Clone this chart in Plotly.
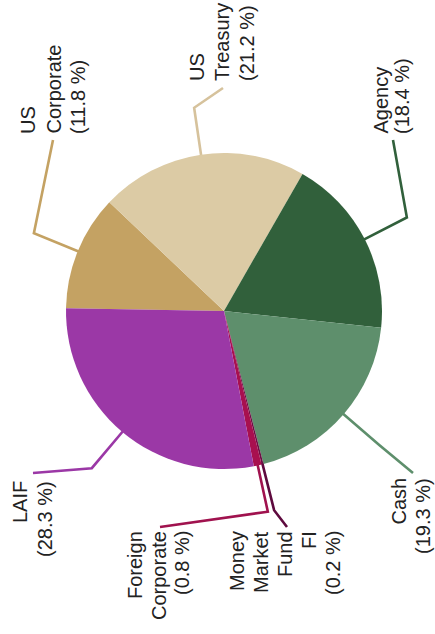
import math
import plotly.graph_objects as go

# ---- data ----
labels = ["US Corporate", "US Treasury", "Agency", "Cash",
          "Money Market Fund FI", "Foreign Corporate", "LAIF"]
values = [11.8, 21.2, 18.4, 19.3, 0.2, 0.8, 28.3]
colors = ["#C4A263", "#DCCBA5", "#31603B", "#5E8F6C",
          "#6B0F45", "#A8104F", "#9B38A6"]
line_colors = ["#C4A263", "#D6C29C", "#31603B", "#5E8F6C",
               "#5E0A3E", "#A0124E", "#9B38A6"]
label_lines = [["US", "Corporate"], ["US", "Treasury"], ["Agency"], ["Cash"],
               ["Money", "Market", "Fund", "FI"], ["Foreign", "Corporate"], ["LAIF"]]

# ---- layout (pixel units of the 435x634 canvas) ----
W, H = 435, 634
CX, CY, R = 224, 311, 158
ROT = 271  # start angle, clockwise from 12 o'clock

label_x0 = [28, 197, 380, 398, 237, 135, 20]
label_step = [25, 25, 22, 25, 24, 23.5, 25]
label_y = [135, 82, 135, 477, 530, 530, 480]
label_anchor = ["bottom", "bottom", "bottom", "top", "top", "top", "top"]
leader_end = [(53, 140), (223, 88), (393, 140), (413, 473),
              (287, 527), (160, 527), (33, 473)]

fig = go.Figure()

fig.add_trace(go.Pie(
    labels=labels, values=values, sort=False, direction="clockwise",
    rotation=ROT, textinfo="none", hoverinfo="label+percent",
    marker=dict(colors=colors, line=dict(width=0)),
    domain=dict(x=[(CX - R) / W, (CX + R) / W],
                y=[1 - (CY + R) / H, 1 - (CY - R) / H]),
    showlegend=False,
))

total = sum(values)
cum = 0.0
annotations = []
for i, v in enumerate(values):
    mid = math.radians(ROT + (cum + v / 2) / total * 360)
    cum += v
    ax = CX + R * 0.99 * math.sin(mid)
    ay = CY - R * 0.99 * math.cos(mid)
    bx = CX + R * 1.3 * math.sin(mid)
    by = CY - R * 1.3 * math.cos(mid)
    ex, ey = leader_end[i]
    fig.add_trace(go.Scatter(
        x=[ax, bx, ex], y=[ay, by, ey], mode="lines",
        line=dict(color=line_colors[i], width=2.6),
        hoverinfo="skip", showlegend=False,
    ))
    lines = label_lines[i] + [f"({v} %)"]
    for j, t in enumerate(lines):
        annotations.append(dict(
            x=label_x0[i] + j * label_step[i], y=label_y[i],
            xref="x", yref="y", text=t, showarrow=False, textangle=-90,
            xanchor="center", yanchor=label_anchor[i],
            font=dict(family="Arial, Liberation Sans, sans-serif", size=20, color="#222222"),
            borderpad=0,
        ))

fig.update_layout(
    width=W, height=H, margin=dict(l=0, r=0, t=0, b=0),
    paper_bgcolor="white", plot_bgcolor="white",
    xaxis=dict(range=[0, W], visible=False, fixedrange=True, domain=[0, 1]),
    yaxis=dict(range=[H, 0], visible=False, fixedrange=True, domain=[0, 1]),
    annotations=annotations,
)

fig.write_html("out.html", config={"displayModeBar": False},
               post_script="document.body.style.margin='0';document.body.style.overflow='hidden';")
